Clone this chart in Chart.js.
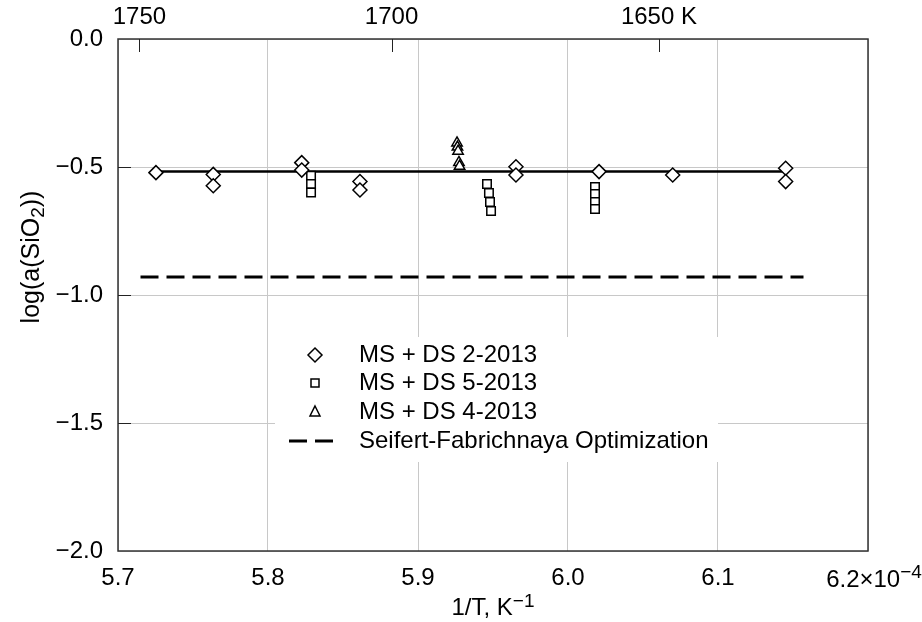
<!DOCTYPE html>
<html>
<head>
<meta charset="utf-8">
<script src="https://cdn.jsdelivr.net/npm/chart.js@4"></script>
<style>
  html, body { margin: 0; padding: 0; background: #fff; }
</style>
</head>
<body>
<canvas id="myChart" width="922" height="622"></canvas>
<script>
// MS + DS 2-2013 (diamonds)
var ds2X = [5.7253, 5.7635, 5.7635, 5.8225, 5.8225, 5.8613, 5.8613, 5.9653, 5.9653, 6.0207, 6.0698, 6.1451, 6.1451];
var ds2Y = [-0.522, -0.529, -0.573, -0.483, -0.512, -0.557, -0.590, -0.499, -0.531, -0.518, -0.531, -0.505, -0.557];

// MS + DS 5-2013 (squares)
var ds5X = [5.8287, 5.8287, 5.8287, 5.9460, 5.9473, 5.9480, 5.9487, 6.0180, 6.0180, 6.0180, 6.0180];
var ds5Y = [-0.534, -0.566, -0.600, -0.566, -0.602, -0.637, -0.672, -0.578, -0.605, -0.637, -0.664];

// MS + DS 4-2013 (triangles)
var ds4X = [5.9260, 5.9263, 5.9267, 5.9273, 5.9277];
var ds4Y = [-0.406, -0.422, -0.438, -0.482, -0.497];

// fitted line and Seifert-Fabrichnaya optimization
var fitX = [5.7253, 6.1451];
var fitY = [-0.518, -0.518];
var optX = [5.715, 6.157];
var optY = [-0.93, -0.93];

// top axis temperatures (K)
var topTemps = [1750, 1700, 1650];
var topLabels = ['1750', '1700', '1650 K'];
var yTicks = [-0.5, -1.0, -1.5];

var legendNames = ['MS + DS 2-2013', 'MS + DS 5-2013', 'MS + DS 4-2013', 'Seifert-Fabrichnaya Optimization'];

function pts(xs, ys) {
  return xs.map(function (x, i) { return { x: x, y: ys[i] }; });
}

var FONT = '"Liberation Sans", Arial, sans-serif';
Chart.defaults.font.family = FONT;
Chart.defaults.font.size = 24;
Chart.defaults.color = '#000';

// draw pieces of text: [text, sizeScale, dy]
function drawRich(ctx, parts, x, y, size, align) {
  var widths = parts.map(function (p) {
    ctx.font = Math.round(size * p[1]) + 'px ' + FONT;
    return ctx.measureText(p[0]).width;
  });
  var total = widths.reduce(function (a, b) { return a + b; }, 0);
  var cx = align === 'center' ? x - total / 2 : x;
  ctx.textAlign = 'left';
  ctx.textBaseline = 'alphabetic';
  parts.forEach(function (p, i) {
    ctx.font = Math.round(size * p[1]) + 'px ' + FONT;
    ctx.fillText(p[0], cx, y + p[2]);
    cx += widths[i];
  });
}

var extras = {
  id: 'extras',
  afterDraw: function (chart) {
    var ctx = chart.ctx, a = chart.chartArea;
    var xs = chart.scales.x, ys = chart.scales.y;
    ctx.save();

    // legend box
    ctx.fillStyle = '#fff';
    ctx.fillRect(275, 337, 443, 125);

    ctx.strokeStyle = '#000';
    ctx.fillStyle = '#fff';
    ctx.lineWidth = 1.5;
    // diamond
    var lx = 315;
    ctx.beginPath();
    ctx.moveTo(lx, 348); ctx.lineTo(lx + 7, 355); ctx.lineTo(lx, 362); ctx.lineTo(lx - 7, 355); ctx.closePath();
    ctx.fill(); ctx.stroke();
    // square
    ctx.beginPath(); ctx.rect(lx - 4, 379, 8, 8); ctx.fill(); ctx.stroke();
    // triangle
    ctx.beginPath();
    ctx.moveTo(lx, 406); ctx.lineTo(lx + 5, 416); ctx.lineTo(lx - 5, 416); ctx.closePath();
    ctx.fill(); ctx.stroke();
    // dashed
    ctx.lineWidth = 3;
    ctx.setLineDash([18, 8]);
    ctx.beginPath(); ctx.moveTo(289, 441); ctx.lineTo(335, 441); ctx.stroke();
    ctx.setLineDash([]);

    ctx.fillStyle = '#000';
    ctx.font = '24px ' + FONT;
    ctx.textAlign = 'left';
    ctx.textBaseline = 'middle';
    var rows = [355, 383, 412, 441];
    legendNames.forEach(function (n, i) { ctx.fillText(n, 359, rows[i]); });

    // frame
    ctx.strokeStyle = '#333';
    ctx.lineWidth = 1.5;
    ctx.strokeRect(a.left, a.top, a.right - a.left, a.bottom - a.top);

    // inward ticks: top (temperature) and left
    ctx.lineWidth = 1;
    ctx.strokeStyle = '#222';
    ctx.beginPath();
    topTemps.forEach(function (t) {
      var px = Math.round(xs.getPixelForValue(1e4 / t)) + 0.5;
      ctx.moveTo(px, a.top); ctx.lineTo(px, a.top + 13);
    });
    yTicks.forEach(function (v) {
      var py = Math.round(ys.getPixelForValue(v)) + 0.5;
      ctx.moveTo(a.left, py); ctx.lineTo(a.left + 13, py);
    });
    ctx.stroke();

    // top labels
    ctx.fillStyle = '#000';
    ctx.font = '24px ' + FONT;
    ctx.textAlign = 'center';
    ctx.textBaseline = 'middle';
    topTemps.forEach(function (t, i) {
      ctx.fillText(topLabels[i], xs.getPixelForValue(1e4 / t), 17);
    });

    // last bottom tick label with exponent
    drawRich(ctx, [['6.2\u00d710', 1, 0], ['\u22124', 0.8, -9]], xs.getPixelForValue(6.2) + 6, 587, 24, 'center');

    // x title
    drawRich(ctx, [['1/T, K', 1, 0], ['\u22121', 0.8, -8]], (a.left + a.right) / 2, 615, 24, 'center');

    // y title
    ctx.translate(31, 257);
    ctx.rotate(-Math.PI / 2);
    drawRich(ctx, [['log(a(SiO', 1, 0], ['2', 0.75, 5], ['))', 1, 0]], 0, 8, 25, 'center');

    ctx.restore();
  }
};

new Chart(document.getElementById('myChart'), {
  type: 'scatter',
  data: {
    datasets: [{
      label: legendNames[0],
      data: pts(ds2X, ds2Y),
      pointStyle: 'rectRot',
      pointRadius: 7,
      pointBorderWidth: 1.5,
      borderColor: '#000',
      backgroundColor: '#fff'
    }, {
      label: legendNames[1],
      data: pts(ds5X, ds5Y),
      pointStyle: 'rect',
      pointRadius: 6,
      pointBorderWidth: 1.5,
      borderColor: '#000',
      backgroundColor: '#fff'
    }, {
      label: legendNames[2],
      data: pts(ds4X, ds4Y),
      pointStyle: 'triangle',
      pointRadius: 6,
      pointBorderWidth: 1.5,
      borderColor: '#000',
      backgroundColor: '#fff'
    }, {
      label: 'fit',
      data: pts(fitX, fitY),
      showLine: true,
      pointRadius: 0,
      borderWidth: 2.5,
      borderColor: '#000'
    }, {
      label: legendNames[3],
      data: pts(optX, optY),
      showLine: true,
      pointRadius: 0,
      borderWidth: 3,
      borderDash: [18, 8],
      borderColor: '#000'
    }]
  },
  options: {
    responsive: false,
    animation: false,
    layout: { padding: { left: 0, right: 54, top: 0, bottom: 0 } },
    plugins: { legend: { display: false }, tooltip: { enabled: false } },
    scales: {
      x: {
        type: 'linear',
        position: 'bottom',
        min: 5.7,
        max: 6.2,
        ticks: {
          stepSize: 0.1,
          padding: 13,
          maxRotation: 0,
          callback: function (v) {
            var r = Math.round(v * 10) / 10;
            return r >= 6.2 ? '' : r.toFixed(1);
          }
        },
        grid: { color: '#c8c8c8', lineWidth: 1, drawTicks: false },
        border: { display: false },
        afterFit: function (s) { s.height = 71; s.paddingLeft = 0; s.paddingRight = 0; }
      },
      x2: {
        type: 'linear',
        position: 'top',
        min: 5.7,
        max: 6.2,
        ticks: { display: false },
        grid: { display: false },
        border: { display: false },
        afterFit: function (s) { s.height = 39; s.paddingLeft = 0; s.paddingRight = 0; }
      },
      y: {
        min: -2,
        max: 0,
        ticks: {
          stepSize: 0.5,
          padding: 15,
          callback: function (v) {
            return v === 0 ? '0.0' : '\u2212' + Math.abs(v).toFixed(1);
          }
        },
        grid: { color: '#c8c8c8', lineWidth: 1, drawTicks: false },
        border: { display: false },
        afterFit: function (s) { s.width = 118; s.paddingTop = 0; s.paddingBottom = 0; }
      }
    }
  },
  plugins: [extras]
});
</script>
</body>
</html>
